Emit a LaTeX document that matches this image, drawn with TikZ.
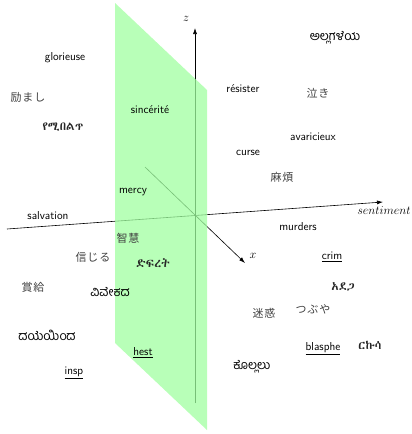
\documentclass[tikz,border=0pt]{standalone}
\usepackage{fontspec}
\usetikzlibrary{arrows.meta}
\newfontfamily\cjkf{Noto Sans CJK JP}
\newfontfamily\kndf[Script=Kannada]{Hind Mysuru}
\IfFontExistsTF{Abyssinica SIL}{\newfontfamily\ethf{Abyssinica SIL}}{%
  \IfFontExistsTF{FreeSerif}{\newfontfamily\ethf{FreeSerif}}{\newfontfamily\ethf{DejaVu Sans}}}
\definecolor{planegreen}{RGB}{160,255,160}
\begin{document}
\begin{tikzpicture}[x=1pt,y=-1pt,
  lbl/.style={font=\fontsize{11.5}{13}\selectfont\sffamily, inner sep=0pt},
  cjk/.style={font=\fontsize{11}{13}\selectfont\cjkf\addfontfeatures{LetterSpace=8}, inner sep=0pt, text=black!75},
  knd/.style={font=\fontsize{12.5}{14}\selectfont\kndf, inner sep=0pt},
  eth/.style={font=\fontsize{12}{14}\selectfont\ethf, inner sep=0pt, text=black!85},
  axlbl/.style={font=\fontsize{11.5}{13}\selectfont, inner sep=0pt},
  axis/.style={line width=0.6pt, -{Latex[length=6pt,width=4pt]}},
  plane/.style={fill=planegreen, fill opacity=0.75, draw=none}]
\useasboundingbox (0,0) rectangle (412,434);
% axes
\coordinate (zs) at (195,403);
\coordinate (ze) at (195,28);
\coordinate (ss) at (7,229);
\coordinate (se) at (383,202);
\coordinate (xs) at (145,167);
\coordinate (xe) at (245,263);
\draw[axis] (zs) -- (ze);
\draw[axis] (ss) -- (se);
\draw[axis] (xs) -- (xe);
% plane
\coordinate (p1) at (115,3);
\coordinate (p2) at (207,90);
\coordinate (p3) at (207,430);
\coordinate (p4) at (115,343);
\path[plane] (p1) -- (p2) -- (p3) -- (p4) -- cycle;
% axis labels
\node[axlbl] (zl) at (186,19) {$z$};
\node[axlbl] (xl) at (253,256) {$x$};
\node[axlbl] (sl) at (384,211) {$sentiment$};
% words
\node[lbl] (w1) at (65,58) {glorieuse};
\node[cjk] (w2) at (28,97) {励まし};
\node[eth] (w3) at (63,127) {የሚበልጥ};
\node[lbl] (w4) at (150,110) {sincérité};
\node[lbl] (w5) at (243,89) {résister};
\node[cjk] (w6) at (318,93) {泣き};
\node[knd] (w7) at (335,38) {ಅಲ್ಲಗಳೆಯ};
\node[lbl] (w8) at (313,137) {avaricieux};
\node[lbl] (w9) at (248,153) {curse};
\node[cjk] (w10) at (282,177) {麻煩};
\node[lbl] (w11) at (298,227) {murders};
\node[lbl] (w12) at (332,257) {\underline{crim}};
\node[eth] (w13) at (343,287) {አደጋ};
\node[lbl] (w14) at (133,192) {mercy};
\node[lbl] (w15) at (48,216) {salvation};
\node[cjk] (w16) at (128,238) {智慧};
\node[cjk] (w17) at (93,257) {信じる};
\node[eth] (w18) at (153,263) {ድፍረት};
\node[cjk] (w19) at (33,287) {賞給};
\node[knd] (w20) at (110,292) {ವಿವೇಕದ};
\node[knd] (w21) at (47,335) {ದಯೆಯಿಂದ};
\node[lbl] (w22) at (143,353) {\underline{hest}};
\node[lbl] (w23) at (74,373) {\underline{insp}};
\node[cjk] (w24) at (264,313) {迷惑};
\node[cjk] (w25) at (313,309) {つぶや};
\node[lbl] (w26) at (323,349) {\underline{blasphe}};
\node[eth] (w27) at (370,345) {ርኩሳ};
\node[knd] (w28) at (252,367) {ಕೊಲ್ಲಲು};
\end{tikzpicture}
\end{document}
